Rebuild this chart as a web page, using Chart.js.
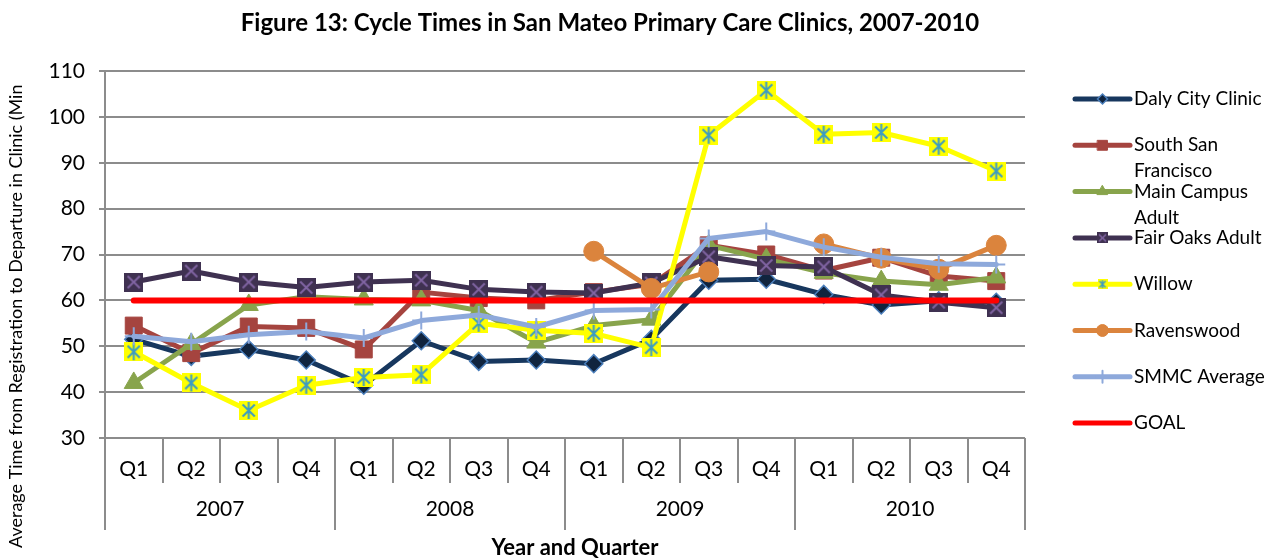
<!DOCTYPE html>
<html>
<head>
<meta charset="utf-8">
<script src="https://cdn.jsdelivr.net/npm/chart.js@4/dist/chart.umd.min.js"></script>
<style>
  html, body { margin: 0; padding: 0; background: #fff; }
  #wrap { width: 1274px; height: 560px; }
</style>
</head>
<body>
<div id="wrap"><canvas id="cycleChart" width="1274" height="560"></canvas></div>
<script>
// ===== DATA =====
const quarters = ['Q1', 'Q2', 'Q3', 'Q4', 'Q1', 'Q2', 'Q3', 'Q4', 'Q1', 'Q2', 'Q3', 'Q4', 'Q1', 'Q2', 'Q3', 'Q4'];
const years = ['2007', '2008', '2009', '2010'];

const dalyCity   = [51.5, 47.8, 49.3, 47.0, 41.5, 51.2, 46.7, 47.0, 46.2, 51.5, 64.4, 64.6, 61.3, 59.0, 59.9, 59.6];
const southSF    = [54.5, 48.5, 54.3, 54.0, 49.3, 61.8, 60.5, 60.0, 61.8, 63.5, 72.0, 70.0, 66.5, 69.3, 65.3, 64.2];
const mainCampus = [42.0, 50.5, 59.0, 60.8, 60.2, 60.0, 57.8, 50.8, 54.5, 55.8, 72.0, 69.0, 66.0, 64.2, 63.4, 65.0];
const fairOaks   = [64.0, 66.4, 64.0, 62.8, 64.0, 64.4, 62.4, 61.8, 61.6, 63.8, 69.5, 67.6, 67.3, 61.2, 59.6, 58.4];
const willow     = [48.8, 42.0, 36.0, 41.5, 43.2, 43.8, 55.0, 53.5, 52.8, 49.7, 96.0, 105.8, 96.2, 96.6, 93.6, 88.2];
const ravenswood = [null, null, null, null, null, null, null, null, 70.7, 62.6, 66.2, null, 72.3, 69.2, 66.8, 72.0];
const smmcAvg    = [52.2, 51.0, 52.5, 53.2, 51.8, 55.6, 56.8, 54.2, 57.8, 58.0, 73.5, 75.0, 71.6, 69.4, 68.0, 67.8];
const goal       = [60, 60, 60, 60, 60, 60, 60, 60, 60, 60, 60, 60, 60, 60, 60, 60];

const legendLines = [
    ['Daly City Clinic'],
    ['South San', 'Francisco'],
    ['Main Campus', 'Adult'],
    ['Fair Oaks Adult'],
    ['Willow'],
    ['Ravenswood'],
    ['SMMC Average'],
    ['GOAL']
];

const FONT = 'Lato, "Open Sans", sans-serif';

// square markers with a cross (Fair Oaks) or an asterisk (Willow)
function boxMarker(size, fill, stroke, star) {
    const c = document.createElement('canvas');
    c.width = size; c.height = size;
    const g = c.getContext('2d');
    g.fillStyle = fill;
    g.fillRect(0, 0, size, size);
    g.strokeStyle = stroke;
    g.lineWidth = size > 14 ? 2 : 1.5;
    const p = size * 0.18;
    g.beginPath();
    g.moveTo(p, p); g.lineTo(size - p, size - p);
    g.moveTo(size - p, p); g.lineTo(p, size - p);
    if (star) { g.moveTo(size / 2, 1); g.lineTo(size / 2, size - 1); }
    g.stroke();
    return c;
}

const fairMarker = boxMarker(19, '#3F3151', '#8064A2', false);
const willowMarker = boxMarker(19, '#FFFF00', '#3D9CC1', true);
const fairMarkerSmall = boxMarker(11, '#3F3151', '#8064A2', false);
const willowMarkerSmall = boxMarker(10, '#FFFF00', '#3D9CC1', true);

function series(label, data, color, extra) {
    return Object.assign({
        label: label,
        data: data,
        borderColor: color,
        backgroundColor: color,
        borderWidth: 5,
        borderJoinStyle: 'round',
        borderCapStyle: 'round',
        pointBackgroundColor: color,
        pointBorderColor: color,
        pointBorderWidth: 1,
        spanGaps: false,
        tension: 0
    }, extra);
}

const datasets = [
    series('Daly City Clinic', dalyCity, '#17375E', { pointStyle: 'rectRot', pointRadius: 9, pointBackgroundColor: '#10243E', pointBorderColor: '#4A7EBB', pointBorderWidth: 1.5, legendStyle: 'rectRot', legendRadius: 5 }),
    series('South San Francisco', southSF, '#A5443F', { pointStyle: 'rect', pointRadius: 12, legendStyle: 'rect', legendRadius: 7 }),
    series('Main Campus Adult', mainCampus, '#88A44C', { pointStyle: 'triangle', pointRadius: 11, legendStyle: 'triangle', legendRadius: 6 }),
    series('Fair Oaks Adult', fairOaks, '#3F3151', { pointStyle: fairMarker, legendStyle: fairMarkerSmall }),
    series('Willow', willow, '#FFFF00', { pointStyle: willowMarker, legendStyle: willowMarkerSmall }),
    series('Ravenswood', ravenswood, '#DB843D', { pointStyle: 'circle', pointRadius: 10, legendStyle: 'circle', legendRadius: 6 }),
    series('SMMC Average', smmcAvg, '#8EA9DB', { pointStyle: 'cross', pointRadius: 9, pointBorderWidth: 2, legendStyle: 'cross', legendRadius: 6 }),
    series('GOAL', goal, '#FF0000', { pointRadius: 0, borderWidth: 6, legendStyle: false })
];
// later series sit on top, like the original
datasets.forEach((d, i) => { d.order = datasets.length - i; });

// ===== DECORATIONS: title, two-level x axis, y title, legend =====
const decorPlugin = {
    id: 'decor',
    afterDraw(chart) {
        const ctx = chart.ctx;
        const area = chart.chartArea;
        const xs = chart.scales.x;
        ctx.save();

        // title
        ctx.fillStyle = '#000';
        ctx.font = 'bold 24px ' + FONT;
        ctx.textAlign = 'center';
        ctx.textBaseline = 'middle';
        ctx.fillText('Figure 13: Cycle Times in San Mateo Primary Care Clinics, 2007-2010', (area.left + area.right) / 2 + 45, 23);

        // category dividers + labels
        const step = xs.getPixelForValue(1) - xs.getPixelForValue(0);
        const x0 = xs.getPixelForValue(0) - step / 2;
        ctx.strokeStyle = '#8C8C8C';
        ctx.lineWidth = 2;
        for (let b = 0; b <= quarters.length; b++) {
            const x = Math.round(x0 + b * step);
            ctx.beginPath();
            ctx.moveTo(x, area.bottom);
            ctx.lineTo(x, area.bottom + (b % 4 === 0 ? 92 : 45));
            ctx.stroke();
        }
        ctx.font = '21px ' + FONT;
        quarters.forEach((q, i) => {
            ctx.fillText(q, xs.getPixelForValue(i), area.bottom + 31);
        });
        years.forEach((y, i) => {
            ctx.fillText(y, x0 + (i * 4 + 2) * step, area.bottom + 71);
        });

        // x title
        ctx.font = 'bold 22px ' + FONT;
        ctx.fillText('Year and Quarter', (area.left + area.right) / 2 + 10, 548);

        // y title (runs off the top, as in the original)
        ctx.save();
        ctx.translate(16, 548);
        ctx.rotate(-Math.PI / 2);
        ctx.font = '18px ' + FONT;
        ctx.textAlign = 'left';
        ctx.fillText('Average Time from Registration to Departure in Clinic (Min', 0, 0);
        ctx.restore();

        // legend
        const lx1 = 1075, lx2 = 1130, tx = 1134;
        ctx.font = '19px ' + FONT;
        ctx.textAlign = 'left';
        datasets.forEach((d, i) => {
            const y = 99 + i * 46.3;
            ctx.strokeStyle = d.borderColor;
            ctx.lineWidth = 5;
            ctx.lineCap = 'round';
            ctx.beginPath();
            ctx.moveTo(lx1, y);
            ctx.lineTo(lx2, y);
            ctx.stroke();
            if (d.legendStyle) {
                ctx.fillStyle = d.pointBackgroundColor;
                ctx.strokeStyle = d.pointBorderColor;
                ctx.lineWidth = d.pointBorderWidth;
                Chart.helpers.drawPoint(ctx, {
                    pointStyle: d.legendStyle,
                    radius: d.legendRadius || 5,
                    rotation: 0,
                    borderWidth: d.pointBorderWidth
                }, (lx1 + lx2) / 2, y);
            }
            ctx.fillStyle = '#000';
            legendLines[i].forEach((t, k) => {
                ctx.fillText(t, tx, y + k * 26);
            });
        });

        ctx.restore();
    }
};

const ctx = document.getElementById('cycleChart').getContext('2d');
const chart = new Chart(ctx, {
    type: 'line',
    data: { labels: quarters, datasets: datasets },
    options: {
        responsive: false,
        devicePixelRatio: 1,
        animation: false,
        layout: { padding: { top: 71, right: 249, bottom: 122, left: 0 } },
        plugins: {
            legend: { display: false },
            title: { display: false },
            tooltip: { enabled: false }
        },
        scales: {
            x: {
                type: 'category',
                display: false,
                offset: true
            },
            y: {
                min: 30,
                max: 110,
                afterFit(scale) { scale.width = 105; },
                ticks: {
                    stepSize: 10,
                    padding: 14,
                    color: '#000',
                    font: { family: FONT, size: 21 }
                },
                grid: { color: '#8C8C8C', lineWidth: 2, tickLength: 6 },
                border: { display: true, color: '#8C8C8C', width: 2 }
            }
        }
    },
    plugins: [decorPlugin]
});
</script>
</body>
</html>
